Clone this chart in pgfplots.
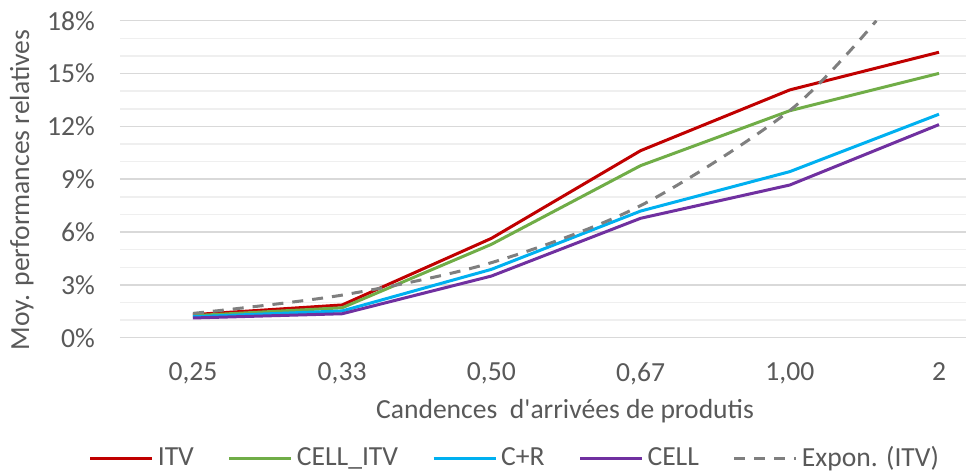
\documentclass[border=0pt]{standalone}
\usepackage{fontspec}
\setmainfont{Carlito}
\usepackage{pgfplots}
\pgfplotsset{compat=1.18}

\definecolor{itv}{HTML}{C00000}
\definecolor{cellitv}{HTML}{70AD47}
\definecolor{cr}{HTML}{00B0F0}
\definecolor{cell}{HTML}{7030A0}
\definecolor{trend}{HTML}{7F7F7F}
\definecolor{txt}{HTML}{595959}
\definecolor{gmaj}{HTML}{D9D9D9}
\definecolor{gmin}{HTML}{EFEFEF}

\newcommand{\chartfont}{\fontsize{13.8}{16}\selectfont}

\begin{document}
\begin{tikzpicture}
\useasboundingbox (0,0) rectangle (483pt,236.5pt);
\begin{axis}[
    at={(60pt,67.65pt)}, anchor=south west,
    scale only axis, width=423pt, height=158.5pt,
    xmin=-0.489, xmax=5.181,
    ymin=0, ymax=18,
    xtick={0,...,5},
    xticklabels={{0,25},{0,33},{0,50},{0,67},{1,00},{2}},
    ytick={0,3,...,18},
    yticklabels={0\%,3\%,6\%,9\%,12\%,15\%,18\%},
    minor y tick num=2,
    ymajorgrids, yminorgrids,
    major grid style={gmaj, line width=0.75pt},
    minor grid style={gmin, line width=0.75pt},
    axis line style={draw=none},
    major tick length=0pt, minor tick length=0pt,
    ticklabel style={text=txt, font=\chartfont},
    xticklabel style={yshift=-9pt},
    yticklabel style={xshift=-9pt},
    xlabel={Candences\ \ d\textquotesingle arrivées de produtis},
    xlabel style={at={(axis description cs:0.526,-0.231)}, anchor=center, text=txt, font=\chartfont},
    ylabel={Moy. performances relatives},
    ylabel style={at={(axis description cs:-0.116,0.466)}, anchor=center, text=txt, font=\chartfont},
    legend columns=5,
    legend style={at={(axis description cs:0.468,-0.38)}, anchor=center,
        draw=none, fill=none, text=txt, font=\chartfont,
        /tikz/every even column/.append style={column sep=15pt}},
    legend image code/.code={\draw[#1] (0pt,0pt) -- (31pt,0pt);},
    every axis plot/.append style={line width=1.5pt, line join=round},
]
% moyennes (%)
\addplot[itv] coordinates {(0,1.31) (1,1.86) (2,5.64) (3,10.62) (4,14.07) (5,16.21)};
\addplot[cellitv] coordinates {(0,1.25) (1,1.70) (2,5.30) (3,9.77) (4,12.89) (5,15.01)};
\addplot[cr] coordinates {(0,1.19) (1,1.52) (2,3.88) (3,7.19) (4,9.43) (5,12.69)};
\addplot[cell] coordinates {(0,1.12) (1,1.36) (2,3.50) (3,6.78) (4,8.67) (5,12.10)};
% tendance exponentielle (ITV), coupée au haut du graphique
\addplot[trend, dash pattern=on 5.5pt off 4.5pt, smooth] coordinates {(0,1.38) (1,2.42) (2,4.26) (3,7.50) (4,12.90) (4.58,18)};
\legend{ITV, CELL\_ITV, C+R, CELL, Expon. (ITV)}
\end{axis}
\end{tikzpicture}
\end{document}
